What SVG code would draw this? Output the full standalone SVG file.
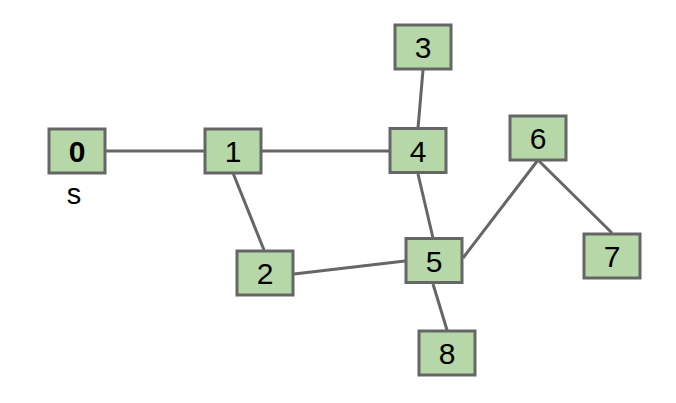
<svg xmlns="http://www.w3.org/2000/svg" width="676" height="403" viewBox="0 0 676 403">
<style>
.n rect{fill:#b6d7a8;stroke:#666666;stroke-width:3}
.n text{font-family:"Liberation Sans",Arial,sans-serif;font-size:30px;text-anchor:middle;fill:#000}
.e line{stroke:#666666;stroke-width:3}
.lbl{font-family:"Liberation Sans",Arial,sans-serif;font-size:29px;text-anchor:middle;fill:#000}
</style>
<rect width="676" height="403" fill="#ffffff"/>
<g id="edges" class="e">
<line x1="106" y1="151" x2="205" y2="151"/>
<line x1="262" y1="151" x2="389" y2="151"/>
<line x1="233" y1="173" x2="264" y2="250"/>
<line x1="423" y1="70" x2="418" y2="128"/>
<line x1="418" y1="174" x2="433" y2="238"/>
<line x1="294" y1="274" x2="405" y2="261"/>
<line x1="463" y1="258" x2="538" y2="160"/>
<line x1="538" y1="160" x2="612" y2="233"/>
<line x1="433" y1="284" x2="447" y2="330"/>
</g>
<g id="n0" class="n"><rect x="49" y="129" width="56" height="44"/><text x="77" y="162" font-weight="bold">0</text></g>
<g id="n1" class="n"><rect x="205" y="129" width="56" height="44"/><text x="233" y="162">1</text></g>
<g id="n3" class="n"><rect x="395" y="25" width="56" height="44"/><text x="423" y="58">3</text></g>
<g id="n4" class="n"><rect x="390" y="128.5" width="56" height="44"/><text x="418" y="161.5">4</text></g>
<g id="n6" class="n"><rect x="510" y="116" width="56" height="44"/><text x="538" y="149">6</text></g>
<g id="n2" class="n"><rect x="237" y="251" width="56" height="44"/><text x="265" y="284">2</text></g>
<g id="n5" class="n"><rect x="406" y="238.5" width="56" height="44"/><text x="434" y="271.5">5</text></g>
<g id="n7" class="n"><rect x="584" y="234" width="56" height="44"/><text x="612" y="267">7</text></g>
<g id="n8" class="n"><rect x="419" y="331" width="56" height="44"/><text x="447" y="364">8</text></g>
<text class="lbl" x="74" y="203.5">s</text>
</svg>
